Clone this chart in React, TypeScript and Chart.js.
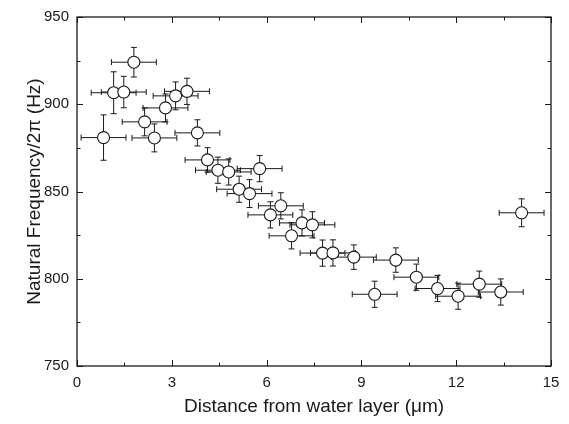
import React, { useEffect, useRef } from "react";
import { Chart, registerables } from "chart.js";

Chart.register(...registerables);

// Distance from water layer (μm)
const distance = [
  0.84, 1.16, 1.48, 1.8, 2.14, 2.45, 2.8, 3.12, 3.48, 3.81, 4.13, 4.46, 4.8, 5.13, 5.46, 5.78,
  6.12, 6.45, 6.79, 7.12, 7.45, 7.77, 8.1, 8.76, 9.42, 10.09, 10.74, 11.41, 12.06, 12.73, 13.41, 14.07,
];
// Natural frequency / 2π (Hz)
const frequency = [
  880.9, 906.6, 907.0, 924.1, 889.9, 880.7, 897.9, 904.8, 907.4, 883.6, 868.1, 862.2, 861.2, 851.3, 848.8, 863.1,
  836.6, 841.8, 824.6, 832.0, 830.9, 814.7, 814.8, 812.4, 791.1, 810.7, 800.9, 794.4, 790.0, 796.9, 792.4, 837.8,
];
const distanceErr = [
  0.71, 0.71, 0.71, 0.71, 0.71, 0.71, 0.71, 0.71, 0.71, 0.71, 0.71, 0.71, 0.71, 0.71, 0.71, 0.71,
  0.71, 0.71, 0.71, 0.71, 0.71, 0.71, 0.71, 0.71, 0.71, 0.71, 0.71, 0.71, 0.71, 0.71, 0.71, 0.71,
];
const frequencyErr = [
  13, 12, 9, 8.5, 8, 8, 8, 8, 7.5, 7.5, 7, 7.5, 7.5, 7.5, 8, 7.5,
  7.5, 7.5, 7.5, 7.5, 7.5, 7.5, 7.5, 7, 7.5, 7, 7.5, 7.5, 7.5, 7.5, 7.5, 8,
];

const xMajorTicks = [0, 3, 6, 9, 12, 15];
const xMinorTicks = [1.5, 4.5, 7.5, 10.5, 13.5];
const yMajorTicks = [750, 800, 850, 900, 950];
const yMinorTicks = [775, 825, 875, 925];

const xTitle = "Distance from water layer (\u03bcm)";
const yTitle = "Natural Frequency/2\u03c0 (Hz)";

const FONT = "'Liberation Sans', Arial, Helvetica, sans-serif";
const INK = "#1a1a1a";

const errorBarsPlugin = {
  id: "errorBars",
  beforeDatasetsDraw(chart: any) {
    const { ctx, scales } = chart;
    const x = scales.x;
    const y = scales.y;
    const cap = 3;
    ctx.save();
    ctx.strokeStyle = INK;
    ctx.lineWidth = 1;
    distance.forEach((d, i) => {
      const f = frequency[i];
      const px = x.getPixelForValue(d);
      const py = y.getPixelForValue(f);
      const xl = x.getPixelForValue(d - distanceErr[i]);
      const xr = x.getPixelForValue(d + distanceErr[i]);
      const yb = y.getPixelForValue(f - frequencyErr[i]);
      const yt = y.getPixelForValue(f + frequencyErr[i]);
      ctx.beginPath();
      ctx.moveTo(xl, py);
      ctx.lineTo(xr, py);
      ctx.moveTo(xl, py - cap);
      ctx.lineTo(xl, py + cap);
      ctx.moveTo(xr, py - cap);
      ctx.lineTo(xr, py + cap);
      ctx.moveTo(px, yt);
      ctx.lineTo(px, yb);
      ctx.moveTo(px - cap, yt);
      ctx.lineTo(px + cap, yt);
      ctx.moveTo(px - cap, yb);
      ctx.lineTo(px + cap, yb);
      ctx.stroke();
    });
    ctx.restore();
  },
};

const framePlugin = {
  id: "frame",
  afterDraw(chart: any) {
    const { ctx, chartArea, scales } = chart;
    const { left, right, top, bottom } = chartArea;
    const x = scales.x;
    const y = scales.y;
    ctx.save();
    ctx.strokeStyle = INK;
    ctx.lineWidth = 1.3;
    ctx.strokeRect(left, top, right - left, bottom - top);
    ctx.lineWidth = 1;
    ctx.beginPath();
    const major = 6;
    const minor = 3.5;
    const xt = (v: number, len: number) => {
      const p = Math.round(x.getPixelForValue(v)) + 0.5;
      ctx.moveTo(p, bottom);
      ctx.lineTo(p, bottom - len);
      ctx.moveTo(p, top);
      ctx.lineTo(p, top + len);
    };
    const yt = (v: number, len: number) => {
      const p = Math.round(y.getPixelForValue(v)) + 0.5;
      ctx.moveTo(left, p);
      ctx.lineTo(left + len, p);
      ctx.moveTo(right, p);
      ctx.lineTo(right - len, p);
    };
    xMajorTicks.forEach((v) => xt(v, major));
    xMinorTicks.forEach((v) => xt(v, minor));
    yMajorTicks.forEach((v) => yt(v, major));
    yMinorTicks.forEach((v) => yt(v, minor));
    ctx.stroke();

    // axis titles
    ctx.fillStyle = INK;
    ctx.font = `19px ${FONT}`;
    ctx.textAlign = "center";
    ctx.textBaseline = "middle";
    ctx.fillText(xTitle, (left + right) / 2, 407);
    ctx.translate(35, (top + bottom) / 2);
    ctx.rotate(-Math.PI / 2);
    ctx.fillText(yTitle, 0, 0);
    ctx.restore();
  },
};

export default function App() {
  const canvasRef = useRef<HTMLCanvasElement | null>(null);

  useEffect(() => {
    document.body.style.margin = "0";
    const canvas = canvasRef.current;
    if (!canvas) return;
    const chart = new Chart(canvas, {
      type: "scatter",
      data: {
        datasets: [
          {
            label: "data",
            data: distance.map((d, i) => ({ x: d, y: frequency[i] })),
            pointStyle: "circle",
            pointRadius: 6,
            pointHoverRadius: 6,
            pointBackgroundColor: "#ffffff",
            pointBorderColor: INK,
            pointBorderWidth: 1.1,
            showLine: false,
          },
        ],
      },
      options: {
        responsive: false,
        animation: false,
        devicePixelRatio: 1,
        layout: { padding: { top: 16, right: 18, left: 0, bottom: 0 } },
        plugins: {
          legend: { display: false },
          tooltip: { enabled: false },
          title: { display: false },
        },
        scales: {
          x: {
            type: "linear",
            min: 0,
            max: 15,
            ticks: {
              stepSize: 3,
              padding: 8,
              color: INK,
              font: { family: FONT, size: 15 },
            },
            grid: { display: false, drawTicks: false },
            border: { display: false },
            afterFit: (s: any) => {
              s.height = 58;
            },
          },
          y: {
            type: "linear",
            min: 750,
            max: 950,
            ticks: {
              stepSize: 50,
              padding: 8,
              color: INK,
              font: { family: FONT, size: 15 },
            },
            grid: { display: false, drawTicks: false },
            border: { display: false },
            afterFit: (s: any) => {
              s.width = 77;
            },
          },
        },
      },
      plugins: [errorBarsPlugin, framePlugin],
    });
    return () => chart.destroy();
  }, []);

  return (
    <div style={{ width: 569, height: 424, background: "#fff" }}>
      <canvas ref={canvasRef} width={569} height={424} />
    </div>
  );
}
